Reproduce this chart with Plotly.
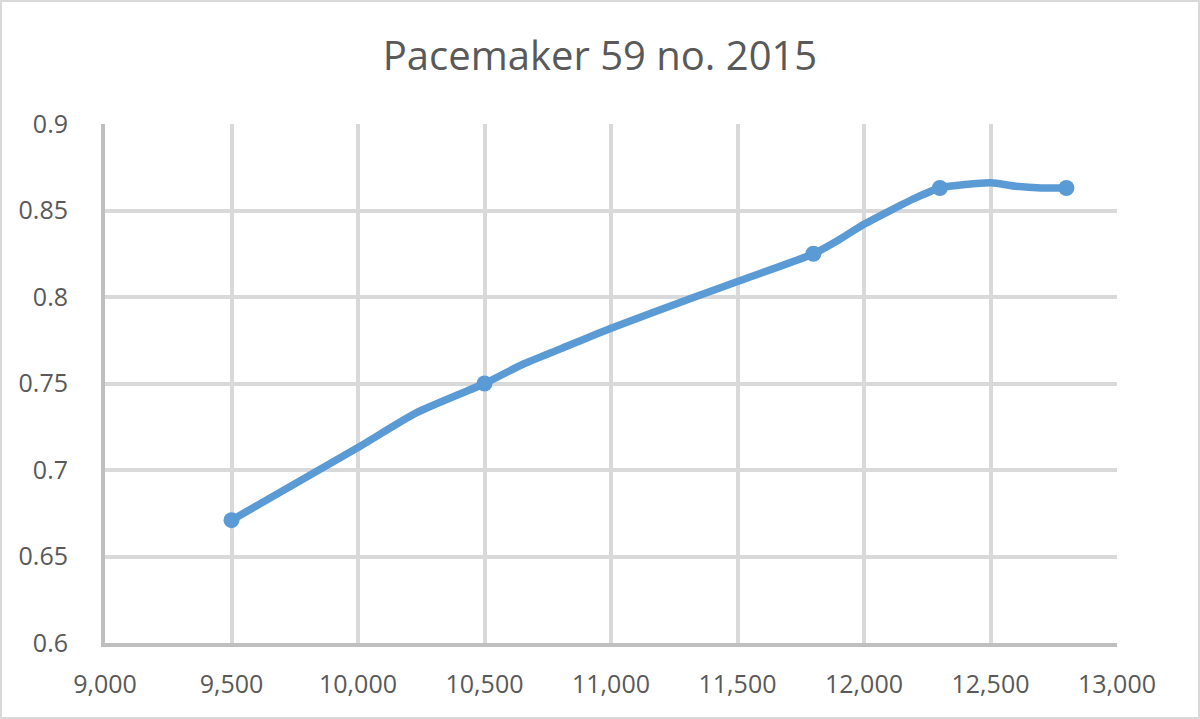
import plotly.graph_objects as go

# Curve
line_x = [9500, 10000, 10230, 10500, 10650, 10800, 11000, 11350, 11500, 11800, 11900, 12000, 12200, 12300, 12500, 12600, 12700, 12800]
line_y = [0.671, 0.713, 0.733, 0.750, 0.761, 0.770, 0.782, 0.801, 0.809, 0.825, 0.833, 0.842, 0.857, 0.863, 0.866, 0.864, 0.863, 0.863]

# Marked data points
pt_x = [9500, 10500, 11800, 12300, 12800]
pt_y = [0.671, 0.750, 0.825, 0.863, 0.863]

x_ticks = [9000, 9500, 10000, 10500, 11000, 11500, 12000, 12500, 13000]
y_ticks = [0.6, 0.65, 0.7, 0.75, 0.8, 0.85, 0.9]
y_labels = ["0.6", "0.65", "0.7", "0.75", "0.8", "0.85", "0.9"]

color = "#5B9BD5"
font = "Open Sans"

fig = go.Figure()
fig.add_trace(go.Scatter(x=line_x, y=line_y, mode="lines",
                         line=dict(color=color, width=7.5, shape="spline", smoothing=0.6),
                         hoverinfo="skip", showlegend=False))
fig.add_trace(go.Scatter(x=pt_x, y=pt_y, mode="markers",
                         marker=dict(color=color, size=16, line=dict(width=0)),
                         showlegend=False))

L, R, T, B = 105, 83, 124, 76
W, H = 1200, 719
pw, ph = W - L - R, H - T - B

fig.update_layout(
    width=W, height=H,
    margin=dict(l=L, r=R, t=T, b=B),
    paper_bgcolor="white", plot_bgcolor="white",
    title=dict(text="Pacemaker 59 no. 2015", x=0.5, xanchor="center",
               y=1 - 56 / H, yanchor="middle",
               font=dict(family=font, size=40, color="#595959")),
    font=dict(family=font, color="#595959"),
    xaxis=dict(range=[9000, 13000], tickvals=x_ticks, tickformat=",d",
               showgrid=True, gridcolor="#D9D9D9", gridwidth=4,
               showline=True, linecolor="#BFBFBF", linewidth=4,
               zeroline=False, ticks="", tickfont=dict(size=25, color="#595959"),
               ticklabelstandoff=16),
    yaxis=dict(range=[0.6, 0.9], tickvals=y_ticks, ticktext=y_labels,
               showgrid=True, gridcolor="#D9D9D9", gridwidth=4,
               showline=True, linecolor="#BFBFBF", linewidth=4,
               zeroline=False, ticks="", tickfont=dict(size=25, color="#595959"),
               ticklabelstandoff=28),
    shapes=[dict(type="rect", xref="paper", yref="paper",
                 x0=-(L - 1) / pw, x1=(W - L - 1) / pw,
                 y0=-(B - 1) / ph, y1=(H - B - 1) / ph,
                 line=dict(color="#D9D9D9", width=2), layer="below")],
)

fig.write_html("out.html", config={"displayModeBar": False},
               post_script="document.body.style.margin='0';document.body.style.overflow='hidden';")
